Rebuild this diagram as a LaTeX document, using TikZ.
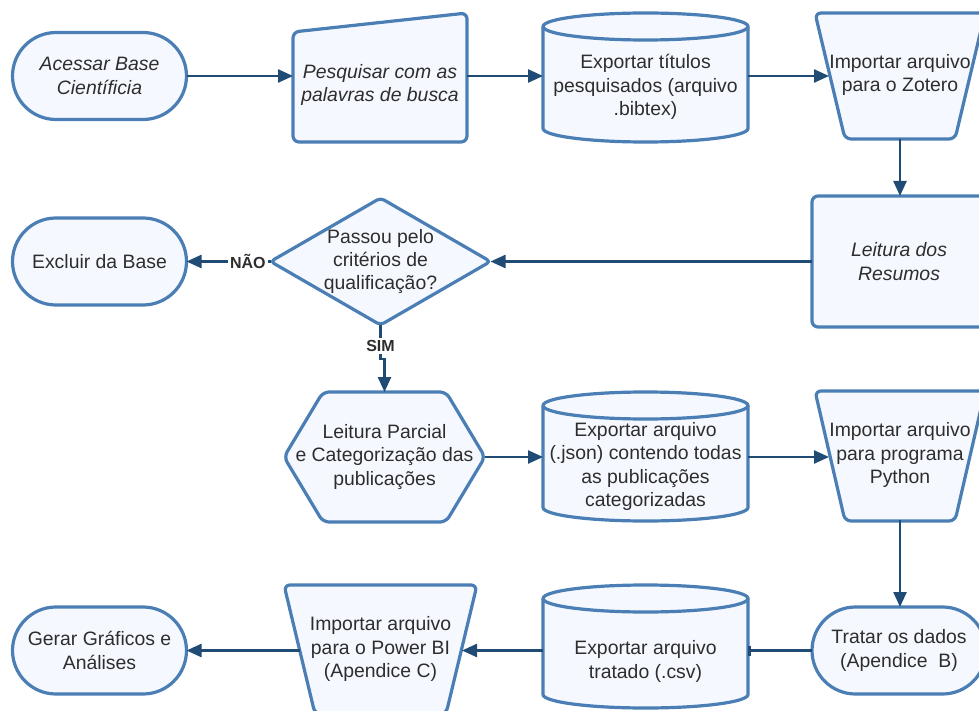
\documentclass[tikz,border=0pt]{standalone}
\usepackage{fontspec}
\setmainfont{Liberation Sans}
\usetikzlibrary{arrows.meta,calc}

\definecolor{edgeblue}{RGB}{74,126,180}
\definecolor{flowblue}{RGB}{31,75,117}
\definecolor{boxfill}{RGB}{245,249,255}
\definecolor{ink}{RGB}{45,45,45}

% cylinder (data store): left x, right x, top y, bottom y
\newcommand{\drumshape}[4]{%
  \draw[outline] (#1,#3+13.5) -- (#1,#4-13.5)
    arc[start angle=180,end angle=360,x radius=102.5pt,y radius=13.5pt]
    -- (#2,#3+13.5)
    arc[start angle=0,end angle=180,x radius=102.5pt,y radius=13.5pt] -- cycle;
  \draw[outline,fill=none] (#1,#3+13.5)
    arc[start angle=180,end angle=360,x radius=102.5pt,y radius=13.5pt];}

\begin{document}
\begin{tikzpicture}[x=1pt,y=-1pt,
  every node/.style={inner sep=0pt, outer sep=0pt, text=ink, align=center,
    font=\fontsize{19.4}{23.3}\selectfont},
  outline/.style={draw=edgeblue, line width=3.2pt, fill=boxfill, line join=round},
  terminal/.style={outline, rounded corners=43.5pt, minimum width=174pt, minimum height=87pt},
  process/.style={outline, rounded corners=6pt, minimum width=174pt, minimum height=131pt},
  frame/.style 2 args={minimum width=#1, minimum height=#2},
  flow/.style={draw=flowblue, line width=2.4pt, -{Triangle[length=15pt,width=13pt]}},
  stub/.style={draw=flowblue, line width=2.4pt, -{Bar[width=10pt,line width=3.4pt]}},
  answer/.style={fill=white, inner sep=2.5pt, font=\bfseries\fontsize{16}{19}\selectfont},
]
\path[use as bounding box] (0,0) rectangle (979,711);
\clip (0,0) rectangle (979,711);

% ---- outlines of the drawn symbols ----
% manual input
\draw[outline, rounded corners=6pt] (293,32) -- (467,13) -- (467,142) -- (293,142) -- cycle;
% data stores
\drumshape{543}{748}{13}{142}
\drumshape{543}{748}{392}{521}
\drumshape{543}{748}{585}{708}
% manual operations
\draw[outline, rounded corners=6pt] (815,13) -- (985,13) -- (955,139) -- (845,139) -- cycle;
\draw[outline, rounded corners=6pt] (815,391) -- (985,391) -- (955,521) -- (845,521) -- cycle;
\draw[outline, rounded corners=6pt] (284,585) -- (477,585) -- (446,714) -- (315,714) -- cycle;
% decision
\draw[outline, rounded corners=4pt] (380.5,198) -- (490.5,261.5) -- (380.5,325) -- (270.5,261.5) -- cycle;
% preparation (hexagon)
\draw[outline, rounded corners=6pt] (284,457) -- (323,392) -- (446,392) -- (485,457)
  -- (446,522) -- (323,522) -- cycle;

% ---- nodes ----
\node[terminal, font=\itshape\fontsize{19.4}{23.3}\selectfont] (A) at (99.5,76) {Acessar Base\\Científicia};
\node[frame={174pt}{114pt}, font=\itshape\fontsize{19.4}{23.3}\selectfont] (B) at (380,85) {Pesquisar com as\\palavras de busca};
\node[frame={205pt}{100pt}] (C) at (645.5,87) {Exportar títulos\\pesquisados (arquivo\\.bibtex)};
\node[frame={170pt}{128pt}] (D) at (900,75) {Importar arquivo\\para o Zotero};
\node[process, font=\itshape\fontsize{19.4}{23.3}\selectfont] (E) at (899,261.5) {Leitura dos\\Resumos};
\node[frame={220pt}{127pt}] (F) at (380.5,261.5) {Passou pelo\\critérios de\\qualificação?};
\node[terminal] (G) at (99.5,261.5) {Excluir da Base};
\node[frame={201pt}{130pt}] (H) at (384.5,457) {Leitura Parcial\\e Categorização das\\publicações};
\node[frame={205pt}{110pt}] (I) at (645.5,466.5) {Exportar arquivo\\(.json) contendo todas\\as publicações\\categorizadas};
\node[frame={170pt}{130pt}] (J) at (900,455) {Importar arquivo\\para programa\\Python};
\node[terminal] (K) at (899,650.5) {Tratar os dados\\(Apendice\ \ B)};
\node[frame={205pt}{60pt}] (L) at (645.5,661.5) {Exportar arquivo\\tratado (.csv)};
\node[frame={193pt}{128pt}] (M) at (380.5,649) {Importar arquivo\\para o Power BI\\(Apendice C)};
\node[terminal] (N) at (99.5,650.5) {Gerar Gráficos e\\Análises};

% ---- connectors ----
\draw[flow] (A.east) -- (A.east -| B.west);
\draw[flow] (A.east -| B.east) -- (A.east -| C.west);
\draw[flow] (A.east -| C.east) -- ($(A.east -| D.west)+(14,0)$);
\draw[flow] (D.south) -- (D.south |- E.north);
\draw[flow] (E.west) -- (F.east);
\draw[flow] (F.west) -- node[answer, pos=0.27, name=nao] {NÃO} (G.east);
\draw[flow] (F.south) -- node[answer, pos=0.62, name=sim] {SIM} ++(0,34) -| (H.north);
\draw[flow] (H.east) -- (H.east -| I.west);
\draw[flow] (H.east -| I.east) -- ($(H.east -| J.west)+(14,0)$);
\draw[flow] (J.south) -- (J.south |- K.north);
\draw[stub] (K.west) -- (K.west -| L.east);
\draw[flow] (K.west -| L.west) -- ($(K.west -| M.east)+(-15,0)$);
\draw[flow] ($(K.west -| M.west)+(16,0)$) -- (N.east);
\end{tikzpicture}
\end{document}
